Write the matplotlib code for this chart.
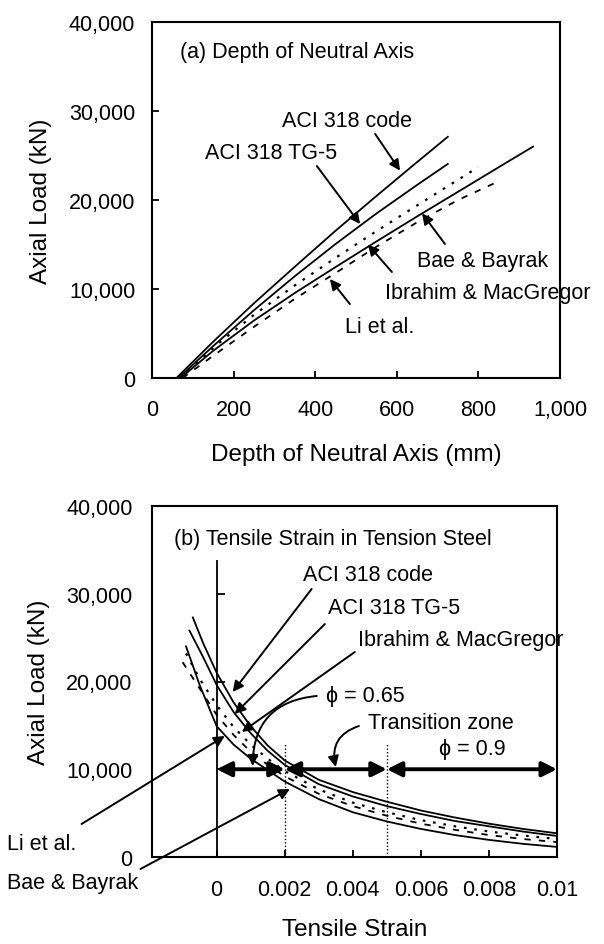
import matplotlib
matplotlib.use('Agg')
import matplotlib.pyplot as plt
from matplotlib.markers import TICKRIGHT

plt.rcParams['font.family'] = ['Liberation Sans', 'DejaVu Sans']

# ---------------- Panel (a): depth of neutral axis (mm) vs axial load (kN)
a_aci_code_x = [60, 150, 250, 350, 450, 550, 650, 725]
a_aci_code_y = [0, 4080, 8400, 12500, 16550, 20450, 24270, 27100]
a_tg5_x = [65, 150, 250, 350, 450, 550, 650, 725]
a_tg5_y = [0, 3590, 7620, 11440, 15060, 18480, 21700, 24050]
a_ibrahim_x = [70, 150, 250, 350, 450, 550, 650, 750, 850, 934]
a_ibrahim_y = [0, 3060, 6460, 9550, 12470, 15340, 18160, 20920, 23690, 26000]
a_bae_x = [70, 150, 250, 350, 450, 550, 650, 800]
a_bae_y = [0, 3400, 7100, 10400, 13500, 16500, 19400, 23700]
a_li_x = [75, 150, 250, 350, 450, 550, 650, 750, 840]
a_li_y = [0, 2500, 5750, 8900, 11800, 14750, 17500, 20000, 21900]

a_xticks = [0, 200, 400, 600, 800, 1000]
a_xticklabels = ['0', '200', '400', '600', '800', '1,000']
yticks = [0, 10000, 20000, 30000, 40000]
yticklabels = ['0', '10,000', '20,000', '30,000', '40,000']

# ---------------- Panel (b): tensile strain vs axial load (kN)
b_aci_code_x = [-0.0007, -0.0004, 0, 0.0005, 0.001, 0.0015, 0.002, 0.003, 0.004, 0.005, 0.006, 0.007, 0.008, 0.009, 0.01]
b_aci_code_y = [27300, 24400, 21000, 17600, 14900, 12700, 11000, 8800, 7400, 6300, 5300, 4500, 3800, 3200, 2700]
b_tg5_x = [-0.0008, -0.0004, 0, 0.0005, 0.001, 0.0015, 0.002, 0.003, 0.004, 0.005, 0.006, 0.007, 0.008, 0.009, 0.01]
b_tg5_y = [25800, 22800, 19600, 16500, 14100, 12100, 10500, 8300, 6900, 5800, 4900, 4100, 3500, 2900, 2400]
b_bae_x = [-0.0009, -0.0005, 0, 0.0005, 0.001, 0.0015, 0.002, 0.003, 0.004, 0.005, 0.006, 0.007, 0.008, 0.009, 0.01]
b_bae_y = [23200, 20300, 17300, 14800, 12800, 11200, 9800, 7700, 6200, 5100, 4200, 3500, 2900, 2450, 2050]
b_li_x = [-0.001, -0.0006, 0, 0.0005, 0.001, 0.0015, 0.002, 0.003, 0.004, 0.005, 0.006, 0.007, 0.008, 0.009, 0.01]
b_li_y = [22200, 19800, 16200, 13900, 12000, 10500, 9200, 7200, 5800, 4700, 3800, 3100, 2500, 2050, 1700]
b_ibrahim_x = [-0.0009, -0.0005, 0, 0.0005, 0.001, 0.0015, 0.002, 0.003, 0.004, 0.005, 0.006, 0.007, 0.008, 0.009, 0.01]
b_ibrahim_y = [24000, 19600, 14900, 12800, 11200, 9900, 8600, 6600, 5100, 4050, 3200, 2500, 1950, 1500, 1150]

b_xticks = [0, 0.002, 0.004, 0.006, 0.008, 0.01]
b_xticklabels = ['0', '0.002', '0.004', '0.006', '0.008', '0.01']
zone_limits = [0, 0.002, 0.005, 0.01]
zone_load = 10000
zone_line_top = 13000
zero_line_top = 33700

FS = 15.5
LFS = 17.5
LW = 1.3
dash_li = (0, (3.5, 4.5))
dot_bae = (0, (1.2, 3.5))

fig = plt.figure(figsize=(6.04, 9.45), dpi=100)
W, H = 604, 945
ax1 = fig.add_axes([152 / W, 1 - 379 / H, (560 - 152) / W, (379 - 23) / H])
ax2 = fig.add_axes([152 / W, 1 - 858 / H, (557 - 152) / W, (858 - 507) / H])

for ax in (ax1, ax2):
    for s in ax.spines.values():
        s.set_linewidth(1.5)

# ---- panel a
ax1.plot(a_aci_code_x, a_aci_code_y, color='k', lw=LW)
ax1.plot(a_tg5_x, a_tg5_y, color='k', lw=LW)
ax1.plot(a_ibrahim_x, a_ibrahim_y, color='k', lw=LW)
ax1.plot(a_bae_x, a_bae_y, color='k', lw=1.6, linestyle=dot_bae)
ax1.plot(a_li_x, a_li_y, color='k', lw=1.3, linestyle=dash_li)
ax1.set_xlim(0, 1000)
ax1.set_ylim(0, 40000)
ax1.set_xticks(a_xticks)
ax1.set_xticklabels(a_xticklabels)
ax1.set_yticks(yticks)
ax1.set_yticklabels(yticklabels)
ax1.tick_params(axis='both', direction='in', length=5, width=1.3, labelsize=FS)
ax1.tick_params(axis='x', pad=15)
ax1.tick_params(axis='y', pad=12)
ax1.set_xlabel('Depth of Neutral Axis (mm)', fontsize=LFS, labelpad=17)
ax1.set_ylabel('Axial Load (kN)', fontsize=LFS, labelpad=12)

ap = dict(arrowstyle='-|>', color='k', lw=1.4, mutation_scale=16, shrinkA=0, shrinkB=0)
ax1.text(69, 36630, '(a) Depth of Neutral Axis', fontsize=FS, ha='left', va='center')
ax1.text(319, 28880, 'ACI 318 code', fontsize=FS, ha='left', va='center')
ax1.text(130, 25390, 'ACI 318 TG-5', fontsize=FS, ha='left', va='center')
ax1.text(650, 13150, 'Bae & Bayrak', fontsize=FS, ha='left', va='center')
ax1.text(571, 9660, 'Ibrahim & MacGregor', fontsize=FS, ha='left', va='center')
ax1.text(473, 5840, 'Li et al.', fontsize=FS, ha='left', va='center')
ax1.annotate('', xy=(608, 23300), xytext=(547, 27420), arrowprops=ap)
ax1.annotate('', xy=(510, 17300), xytext=(404, 23820), arrowprops=ap)
ax1.annotate('', xy=(662, 18500), xytext=(718, 15060), arrowprops=ap)
ax1.annotate('', xy=(529, 15000), xytext=(588, 11910), arrowprops=ap)
ax1.annotate('', xy=(436, 11120), xytext=(485, 8310), arrowprops=ap)

# ---- panel b
ax2.plot(b_aci_code_x, b_aci_code_y, color='k', lw=LW)
ax2.plot(b_tg5_x, b_tg5_y, color='k', lw=LW)
ax2.plot(b_ibrahim_x, b_ibrahim_y, color='k', lw=LW)
ax2.plot(b_bae_x, b_bae_y, color='k', lw=1.6, linestyle=dot_bae)
ax2.plot(b_li_x, b_li_y, color='k', lw=1.3, linestyle=dash_li)
ax2.set_xlim(-0.0019, 0.01)
ax2.set_ylim(0, 40000)
ax2.set_xticks(b_xticks)
ax2.set_xticklabels(b_xticklabels)
ax2.set_yticks(yticks)
ax2.set_yticklabels(yticklabels)
ax2.tick_params(axis='x', direction='in', length=5, width=1.3, labelsize=FS, pad=16)
ax2.tick_params(axis='y', length=0, labelsize=FS, pad=14)
ax2.set_xlabel('Tensile Strain', fontsize=LFS, labelpad=13)
ax2.set_ylabel('Axial Load (kN)', fontsize=LFS, labelpad=12)

# vertical zero-strain line with its own ticks
ax2.plot([0, 0], [0, zero_line_top], color='k', lw=1.3)
ax2.plot([0, 0, 0], yticks[1:4], linestyle='none', marker=TICKRIGHT, markersize=6,
         markeredgewidth=1.3, color='k')
# dotted limits
for xl in zone_limits[1:3]:
    ax2.plot([xl, xl], [0, zone_line_top], color='k', lw=1.0, linestyle=(0, (1, 1.5)))
# zone double arrows
dap = dict(arrowstyle='<|-|>', color='k', lw=2.8, mutation_scale=22, shrinkA=0, shrinkB=0)
for x0, x1 in zip(zone_limits[:-1], zone_limits[1:]):
    ax2.annotate('', xy=(x1, zone_load), xytext=(x0, zone_load), arrowprops=dap)

ax2.text(-0.00124, 36240, '(b) Tensile Strain in Tension Steel', fontsize=FS, ha='left', va='center')
ax2.text(0.00253, 32250, 'ACI 318 code', fontsize=FS, ha='left', va='center')
ax2.text(0.00326, 28490, 'ACI 318 TG-5', fontsize=FS, ha='left', va='center')
ax2.text(0.00415, 24840, 'Ibrahim & MacGregor', fontsize=FS, ha='left', va='center')
ax2.text(0.00321, 18350, '\u03d5 = 0.65', fontsize=FS, ha='left', va='center')
ax2.text(0.00444, 15380, 'Transition zone', fontsize=FS, ha='left', va='center')
ax2.text(0.00653, 12310, '\u03d5 = 0.9', fontsize=FS, ha='left', va='center')
ax2.text(-0.00615, 1500, 'Li et al.', fontsize=FS, ha='left', va='center', clip_on=False)
ax2.text(-0.00615, -2950, 'Bae & Bayrak', fontsize=FS, ha='left', va='center', clip_on=False)

ap2 = dict(arrowstyle='-|>', color='k', lw=1.4, mutation_scale=16, shrinkA=0, shrinkB=0)
ax2.annotate('', xy=(0.00047, 18800), xytext=(0.00279, 30540), arrowprops=ap2)
ax2.annotate('', xy=(0.00053, 16300), xytext=(0.00318, 26550), arrowprops=ap2)
ax2.annotate('', xy=(0.00074, 14250), xytext=(0.00406, 23360), arrowprops=ap2)
ax2.annotate('', xy=(0.00024, 13790), xytext=(-0.00397, 3760), arrowprops=ap2,
             annotation_clip=False)
ax2.annotate('', xy=(0.00215, 7750), xytext=(-0.00224, -1370), arrowprops=ap2,
             annotation_clip=False)
ap3 = dict(arrowstyle='-|>', color='k', lw=1.4, mutation_scale=16, shrinkA=0, shrinkB=0,
           connectionstyle='arc3,rad=0.45')
ax2.annotate('', xy=(0.00106, 10370), xytext=(0.00294, 18350), arrowprops=ap3)
ax2.annotate('', xy=(0.0035, 10260), xytext=(0.00418, 14930), arrowprops=ap3)

fig.savefig('out.png', dpi=100)
